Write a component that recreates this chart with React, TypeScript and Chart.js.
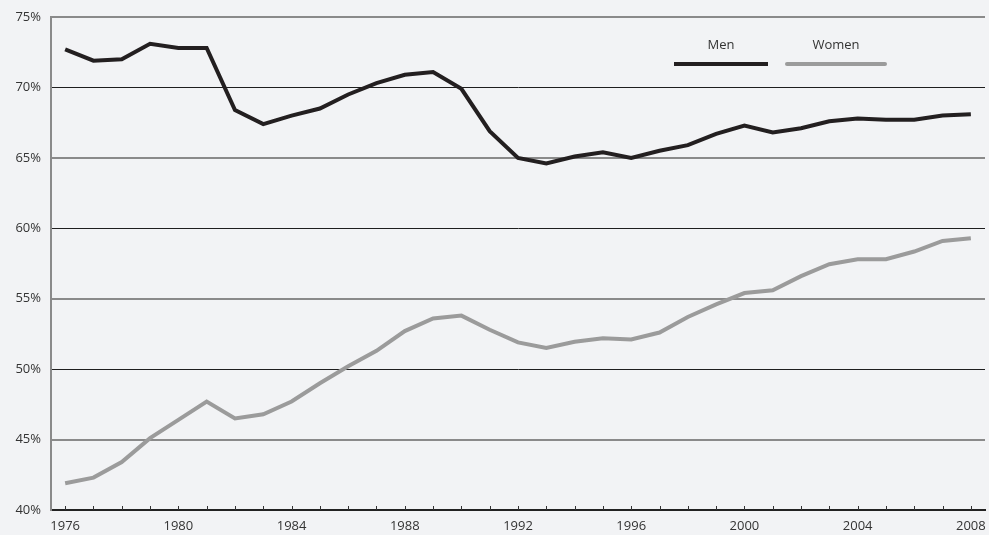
import React, { useEffect, useRef } from "react";
import { Chart, registerables } from "chart.js";

Chart.register(...registerables);

const years: string[] = [
  "1976", "1977", "1978", "1979", "1980", "1981", "1982", "1983", "1984", "1985", "1986",
  "1987", "1988", "1989", "1990", "1991", "1992", "1993", "1994", "1995", "1996", "1997",
  "1998", "1999", "2000", "2001", "2002", "2003", "2004", "2005", "2006", "2007", "2008",
];

const menValues: number[] = [
  72.7, 71.9, 72.0, 73.1, 72.8, 72.8, 68.4, 67.4, 68.0, 68.5, 69.5,
  70.3, 70.9, 71.1, 69.9, 66.9, 65.0, 64.6, 65.1, 65.4, 65.0, 65.5,
  65.9, 66.7, 67.3, 66.8, 67.1, 67.6, 67.8, 67.7, 67.7, 68.0, 68.1,
];

const womenValues: number[] = [
  41.9, 42.3, 43.4, 45.1, 46.4, 47.7, 46.5, 46.8, 47.7, 49.0, 50.2,
  51.3, 52.7, 53.6, 53.8, 52.8, 51.9, 51.5, 51.95, 52.2, 52.1, 52.6,
  53.7, 54.6, 55.4, 55.6, 56.6, 57.45, 57.8, 57.8, 58.35, 59.1, 59.3,
];

const seriesLabels: string[] = ["Men", "Women"];
const yTicks: number[] = [40, 45, 50, 55, 60, 65, 70, 75];

const FONT = "'Open Sans', 'Noto Sans', sans-serif";
const MEN_COLOR = "#231f20";
const WOMEN_COLOR = "#9b9b9b";
const BG = "#f2f3f5";

const customPlugin = {
  id: "customDecor",
  beforeDraw(chart: any) {
    const { ctx, width, height } = chart;
    ctx.save();
    ctx.fillStyle = BG;
    ctx.fillRect(0, 0, width, height);
    ctx.restore();
  },
  afterDatasetsDraw(chart: any) {
    const { ctx, chartArea } = chart;
    const xScale = chart.scales.x;
    ctx.save();
    ctx.strokeStyle = "#333";
    ctx.lineWidth = 1;
    for (let i = 0; i < years.length; i++) {
      const x = Math.round(xScale.getPixelForValue(i)) + 0.5;
      ctx.beginPath();
      ctx.moveTo(x, chartArea.bottom - 4);
      ctx.lineTo(x, chartArea.bottom);
      ctx.stroke();
    }
    const items = chart.data.datasets.map((d: any, i: number) => ({
      label: d.label,
      color: d.borderColor,
      x0: chartArea.right - (i === 0 ? 311 : 198),
      x1: chartArea.right - (i === 0 ? 217 : 100),
    }));
    ctx.font = `13px ${FONT}`;
    ctx.textAlign = "center";
    ctx.textBaseline = "middle";
    for (const it of items) {
      ctx.fillStyle = "#333";
      ctx.fillText(it.label, (it.x0 + it.x1) / 2, chartArea.top + 28);
      ctx.strokeStyle = it.color;
      ctx.lineWidth = 4;
      ctx.lineCap = it.label === "Women" ? "round" : "butt";
      ctx.beginPath();
      ctx.moveTo(it.x0, chartArea.top + 47);
      ctx.lineTo(it.x1, chartArea.top + 47);
      ctx.stroke();
    }
    ctx.restore();
  },
};

export default function App() {
  const canvasRef = useRef<HTMLCanvasElement | null>(null);

  useEffect(() => {
    document.body.style.margin = "0";
    const canvas = canvasRef.current;
    if (!canvas) return;
    const chart = new Chart(canvas, {
      type: "line",
      data: {
        labels: years,
        datasets: [
          {
            label: seriesLabels[0],
            data: menValues,
            borderColor: MEN_COLOR,
            backgroundColor: MEN_COLOR,
            borderWidth: 4,
            pointRadius: 0,
            tension: 0,
          },
          {
            label: seriesLabels[1],
            data: womenValues,
            borderColor: WOMEN_COLOR,
            backgroundColor: WOMEN_COLOR,
            borderWidth: 4,
            pointRadius: 0,
            tension: 0,
          },
        ],
      },
      options: {
        responsive: false,
        animation: false,
        layout: { padding: { top: 17, right: 4, left: 0, bottom: 0 } },
        plugins: {
          legend: { display: false },
          tooltip: { enabled: false },
        },
        scales: {
          x: {
            type: "category",
            offset: true,
            grid: { display: true, drawOnChartArea: false, drawTicks: false, offset: false },
            border: { display: true, color: "#222", width: 2 },
            ticks: {
              autoSkip: false,
              maxRotation: 0,
              padding: 8,
              color: "#333",
              font: { family: FONT, size: 13 },
              callback: (_v: any, i: number) => ((Number(years[i]) - 1976) % 4 === 0 ? years[i] : ""),
            },
            afterFit: (s: any) => {
              s.height = 25;
              s.paddingLeft = 0;
              s.paddingRight = 0;
            },
          },
          y: {
            min: yTicks[0],
            max: yTicks[yTicks.length - 1],
            afterBuildTicks: (s: any) => {
              s.ticks = yTicks.map((v) => ({ value: v }));
            },
            grid: {
              drawTicks: false,
              color: (c: any) => {
                const v = c.tick ? c.tick.value : 0;
                return v % 10 === 0 ? "#1e1e1e" : "#8a8a8a";
              },
              lineWidth: (c: any) => {
                const v = c.tick ? c.tick.value : 0;
                return v % 10 === 0 ? 1 : 2;
              },
            },
            border: { display: true, color: "#8a8a8a", width: 2 },
            ticks: {
              padding: 10,
              color: "#333",
              font: { family: FONT, size: 13 },
              callback: (v: any) => `${v}%`,
            },
            afterFit: (s: any) => {
              s.width = 51;
              s.paddingTop = 0;
              s.paddingBottom = 0;
            },
          },
        },
      },
      plugins: [customPlugin],
    });
    return () => chart.destroy();
  }, []);

  return (
    <div style={{ width: 989, height: 535, background: BG }}>
      <canvas ref={canvasRef} width={989} height={535} style={{ display: "block" }} />
    </div>
  );
}
